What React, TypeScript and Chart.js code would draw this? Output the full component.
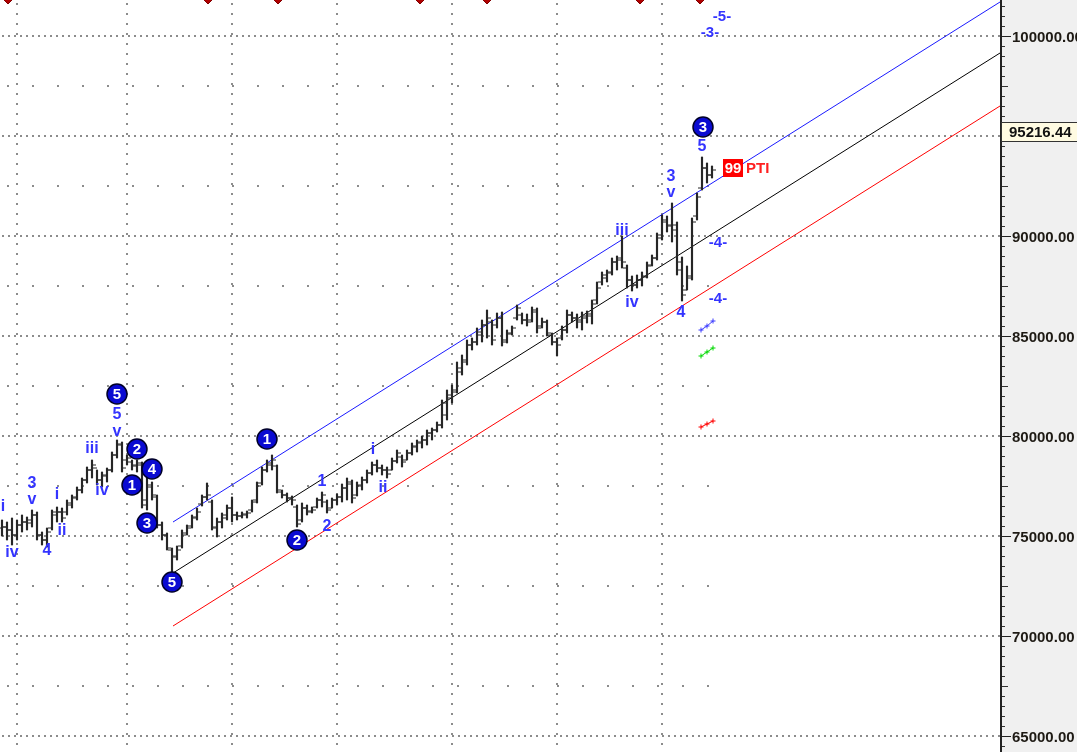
import React, { useEffect, useRef } from 'react';
import { Chart, registerables } from 'chart.js';

Chart.register(...registerables);

// ---------- data ----------
const highs = [75800,75700,75900,75800,76050,75950,76300,76200,75200,75400,
76300,76450,76400,76800,77050,77450,77900,78450,78800,78300,
78200,78400,79200,79800,79700,79050,78800,78800,78700,77900,
77700,77050,75700,75150,74400,74500,75300,75550,76050,76400,
77050,77650,76800,75900,76150,76550,76950,76200,76200,76250,
76800,77700,78450,78800,79050,78550,77300,77150,77000,76550,
76650,76550,76450,76900,77200,76800,76900,77100,77600,77900,
77800,77700,77950,78300,78700,78800,78550,78450,78900,79300,
79050,79300,79650,79800,80000,80300,80400,80700,81800,82300,
82550,83700,84050,84800,84900,85400,85800,86300,85800,86150,
86200,85300,85500,86550,86150,86100,86450,86400,85900,85800,
85150,84900,85500,86300,86200,86100,86200,86250,86800,87700,
88200,88300,88900,89000,90000,88550,88000,88050,88200,88700,
89050,90150,91050,91000,91650,90700,88950,88500,90900,92150,
93950,93650,93500];

const lows = [75000,74800,74550,74800,75200,75300,75450,74800,74550,74450,
75300,75700,75700,76050,76400,76800,77150,77650,77900,77550,
77450,77700,78200,78900,78200,78550,78300,78200,76400,76300,
76800,75400,74800,74300,73200,73800,74400,75050,75400,75800,
76500,76800,75300,74950,75400,75800,75700,75800,75900,75900,
76200,76650,77550,78200,78300,77150,76900,76700,76550,75450,
75700,76050,76150,76400,76450,76150,76400,76550,76700,76800,
76650,77000,77300,77650,78050,78200,78050,77900,78300,78650,
78450,78800,79050,79200,79400,79550,79800,80200,80400,80800,
81650,82150,83050,83550,84300,84550,84700,84900,84550,85400,
84500,84650,85050,85800,85600,85500,85700,85150,85400,85000,
84550,84000,84800,85150,85700,85400,85300,85650,85600,86600,
87550,87700,88050,88300,88400,87400,87250,87400,87500,87900,
88500,88800,89800,90200,89700,88050,86750,87300,87800,90800,
92300,92650,92900];

const opens = [75400,75450,75300,75050,75550,75700,75800,76050,75050,74800,
75400,76050,76200,76200,76550,76950,77300,77800,78300,78400,
77800,78000,78300,79050,79550,78800,78700,78500,78550,76800,
77450,76950,75550,75050,74300,74000,74500,75150,75500,75950,
76600,76950,76700,75400,75700,76050,76400,76050,76000,76050,
76300,76800,77650,78300,78550,78500,77200,77050,76900,76450,
75800,76400,76250,76450,76800,76700,76400,76800,76950,77400,
77600,77050,77500,77800,78150,78550,78400,78300,78300,78750,
78950,78800,79150,79450,79650,79800,80150,80300,80550,81050,
81900,82300,83200,83700,84550,84700,85050,85550,85700,85550,
85900,84800,85150,85900,86050,85800,85800,86300,85500,85700,
85050,84700,84900,85300,86050,85900,85800,85900,86000,86800,
87700,87900,88200,88700,88900,88400,87800,87550,87800,88000,
88550,88900,90050,90700,90550,90550,88700,87300,88000,91000,
92400,93400,93050];

const closes = [75450,75300,75050,75550,75700,75650,76050,75050,74800,75200,
76200,76200,75900,76650,76900,77300,77800,78300,78550,77800,
78050,78300,79050,79600,78400,78900,78550,78650,76550,77550,
77050,75550,75050,74400,73950,74300,75050,75400,75900,76200,
76950,77050,75450,75700,75900,76400,76050,76000,76100,76150,
76700,77500,78300,78650,78800,77300,77050,76900,76800,75600,
76400,76200,76300,76800,77050,76300,76800,76950,77400,77700,
76900,77550,77800,78150,78550,78400,78300,78100,78750,79150,
78700,79150,79500,79700,79800,80150,80300,80550,81650,82050,
82200,83400,83800,84550,84700,85200,85550,85900,84800,85900,
84700,85100,85400,86400,85800,85700,86200,85400,85700,85150,
84700,84550,85300,86050,85900,85700,86000,86100,86600,87400,
88050,88150,88700,88800,88700,87800,87550,87800,87950,88500,
88900,89900,90800,90500,90300,88300,87050,87900,90700,91950,
93400,93050,93300];

const yTickValues = [65000, 70000, 75000, 80000, 85000, 90000, 95000, 100000];
const yTickLabels = ['65000.00', '70000.00', '75000.00', '80000.00', '85000.00', '90000.00', '', '100000.00'];
const yMidValues = [67500, 72500, 77500, 82500, 87500, 92500, 97500];
const monthStarts = [3, 25, 46, 67, 90, 111, 132];
const weekStart = 1.2;

const channelX = [34.2, 199.6];
const upperChannel = [75700, 101700];
const middleChannel = [73150, 99150];
const lowerChannel = [70500, 96500];

const circleLabels: [string, number, number][] = [
  ['5', 23, 82100], ['2', 27, 79350], ['1', 26, 77550], ['4', 30, 78350],
  ['3', 29, 75650], ['5', 34, 72700], ['1', 53, 79850], ['2', 59, 74800],
  ['3', 140.2, 95450],
];

const waveLabels: [string, number, number][] = [
  ['i', 0.2, 76450], ['iv', 2, 74150], ['3', 6, 77600], ['v', 6, 76800],
  ['4', 9, 74250], ['i', 11, 77050], ['ii', 12, 75250], ['iii', 18, 79350],
  ['iv', 20, 77250], ['5', 23, 81050], ['v', 23, 80200], ['1', 64, 77700],
  ['2', 65, 75450], ['i', 74.2, 79300], ['ii', 76.2, 77400], ['iii', 124, 90250],
  ['iv', 126, 86650], ['3', 133.8, 92950], ['v', 133.8, 92150], ['4', 135.8, 86150],
  ['5', 140, 94450],
];

const targetLabels: [string, number, number][] = [
  ['-5-', 144, 100950], ['-3-', 141.6, 100150], ['-4-', 143.2, 89650], ['-4-', 143.2, 86850],
];

const crossX = [139.8, 141, 142.2];
const blueCross = [85300, 85500, 85750];
const greenCross = [84000, 84200, 84400];
const redCross = [80450, 80600, 80750];

const signalX = [1.2, 41.2, 55.2, 83.6, 97, 127.6, 139.6];

const lastPrice = 95216.44;
const lastPriceLabel = '95216.44';
const ptiScore = '99';
const ptiText = 'PTI';
const ptiPos = [146, 93400];

const X_MIN = -0.4;
const X_MAX = 199.6;
const Y_MIN = 64200;
const Y_MAX = 101800;

const FONT = '"Liberation Sans", Arial, sans-serif';

const decorPlugin = {
  id: 'decor',
  beforeDatasetsDraw(chart: any) {
    const { ctx, chartArea: a, scales } = chart;
    const x = scales.x, y = scales.y;
    ctx.save();
    ctx.fillStyle = '#f0f0f0';
    ctx.fillRect(a.right, 0, chart.width - a.right, chart.height);
    ctx.fillStyle = '#8c8c8c';
    yTickValues.forEach((v) => {
      const py = Math.round(y.getPixelForValue(v));
      for (let px = a.left + 2; px < a.right - 1; px += 6) ctx.fillRect(px, py - 1, 2, 2);
    });
    monthStarts.forEach((m) => {
      const px = Math.round(x.getPixelForValue(m));
      for (let py = a.top + 3; py < a.bottom; py += 10) ctx.fillRect(px - 1, py, 2, 2);
    });
    yMidValues.forEach((v) => {
      const py = Math.round(y.getPixelForValue(v));
      for (let w = weekStart; w <= highs.length - 1; w += 5) {
        const px = Math.round(x.getPixelForValue(w));
        ctx.fillRect(px - 1, py - 1, 2, 2);
      }
    });
    ctx.restore();
  },
  afterDatasetsDraw(chart: any) {
    const { ctx, scales } = chart;
    const x = scales.x, y = scales.y;
    ctx.save();
    ctx.textAlign = 'center';
    ctx.textBaseline = 'middle';
    ctx.font = `bold 16px ${FONT}`;
    ctx.fillStyle = '#3434ff';
    waveLabels.forEach(([t, xi, v]) => ctx.fillText(t, x.getPixelForValue(xi), y.getPixelForValue(v)));
    ctx.font = `bold 15px ${FONT}`;
    targetLabels.forEach(([t, xi, v]) => ctx.fillText(t, x.getPixelForValue(xi), y.getPixelForValue(v)));
    circleLabels.forEach(([t, xi, v]) => {
      const px = x.getPixelForValue(xi), py = y.getPixelForValue(v);
      ctx.beginPath();
      ctx.arc(px, py, 10, 0, Math.PI * 2);
      ctx.fillStyle = '#0a0ad2';
      ctx.fill();
      ctx.lineWidth = 1.5;
      ctx.strokeStyle = '#000028';
      ctx.stroke();
      ctx.fillStyle = '#ffffff';
      ctx.font = `bold 15px ${FONT}`;
      ctx.fillText(t, px, py + 1);
    });
    const ppx = x.getPixelForValue(ptiPos[0]), ppy = y.getPixelForValue(ptiPos[1]);
    ctx.fillStyle = '#ff0000';
    ctx.fillRect(ppx - 9, ppy - 9, 20, 18);
    ctx.fillStyle = '#ffffff';
    ctx.font = `bold 15px ${FONT}`;
    ctx.fillText(ptiScore, ppx + 1, ppy + 1);
    ctx.fillStyle = '#ff2020';
    ctx.textAlign = 'left';
    ctx.fillText(ptiText, ppx + 14, ppy + 1);
    ctx.restore();
  },
  afterDraw(chart: any) {
    const { ctx, chartArea: a, scales } = chart;
    const y = scales.y;
    ctx.save();
    const ax = a.right;
    ctx.strokeStyle = '#333';
    ctx.lineWidth = 1;
    for (let v = 64500; v <= Y_MAX; v += 500) {
      const py = Math.round(y.getPixelForValue(v)) + 0.5;
      const len = v % 2500 === 0 ? 7 : 4;
      ctx.beginPath();
      ctx.moveTo(ax + 1, py);
      ctx.lineTo(ax + 1 + len, py);
      ctx.stroke();
    }
    ctx.font = `bold 15px ${FONT}`;
    ctx.textAlign = 'left';
    ctx.textBaseline = 'middle';
    yTickValues.forEach((v, i) => {
      const py = Math.round(y.getPixelForValue(v)) + 0.5;
      ctx.strokeStyle = '#222';
      ctx.beginPath();
      ctx.moveTo(ax + 1, py);
      ctx.lineTo(ax + 11, py);
      ctx.stroke();
      ctx.fillStyle = '#1e1a14';
      if (yTickLabels[i]) ctx.fillText(yTickLabels[i], ax + 12, py + 1);
    });
    ctx.strokeStyle = '#222';
    ctx.lineWidth = 2;
    ctx.beginPath();
    ctx.moveTo(ax + 1, 0);
    ctx.lineTo(ax + 1, chart.height);
    ctx.stroke();
    const lp = y.getPixelForValue(lastPrice);
    ctx.fillStyle = '#fffbe2';
    ctx.fillRect(ax + 2, lp - 9.5, chart.width - ax - 2, 19);
    ctx.strokeStyle = '#333';
    ctx.lineWidth = 1;
    ctx.strokeRect(ax + 1.5, Math.round(lp - 9.5) + 0.5, chart.width - ax, 19);
    ctx.fillStyle = '#111';
    ctx.fillText(lastPriceLabel, ax + 9, lp + 1);
    ctx.restore();
  },
};

export default function App() {
  const ref = useRef<HTMLCanvasElement>(null);
  useEffect(() => {
    document.body.style.margin = '0';
    document.body.style.overflow = 'hidden';
    const idx = highs.map((_, i) => i);
    const chart = new Chart(ref.current as HTMLCanvasElement, {
      type: 'bar',
      data: {
        datasets: [
          {
            type: 'bar',
            data: idx.map((i) => ({ x: i, y: [lows[i], highs[i]] })) as any,
            backgroundColor: '#262626',
            borderWidth: 0,
            barThickness: 1.5,
          } as any,
          {
            type: 'line',
            data: idx.map((i) => ({ x: i - 0.4, y: opens[i] })),
            showLine: false,
            pointStyle: 'line',
            pointRadius: 2,
            pointBorderWidth: 1,
            pointBorderColor: '#262626',
          } as any,
          {
            type: 'line',
            data: idx.map((i) => ({ x: i + 0.4, y: closes[i] })),
            showLine: false,
            pointStyle: 'line',
            pointRadius: 2,
            pointBorderWidth: 1,
            pointBorderColor: '#262626',
          } as any,
          {
            type: 'line',
            data: channelX.map((cx, k) => ({ x: cx, y: upperChannel[k] })),
            borderColor: '#1a1aff', borderWidth: 1, pointRadius: 0,
          } as any,
          {
            type: 'line',
            data: channelX.map((cx, k) => ({ x: cx, y: middleChannel[k] })),
            borderColor: '#000000', borderWidth: 1, pointRadius: 0,
          } as any,
          {
            type: 'line',
            data: channelX.map((cx, k) => ({ x: cx, y: lowerChannel[k] })),
            borderColor: '#ff0000', borderWidth: 1, pointRadius: 0,
          } as any,
          {
            type: 'line',
            data: crossX.map((cx, k) => ({ x: cx, y: blueCross[k] })),
            borderColor: '#3a3aff', borderWidth: 1, pointStyle: 'cross', pointRadius: 2.5,
            pointBorderColor: '#3a3aff', pointBorderWidth: 1,
          } as any,
          {
            type: 'line',
            data: crossX.map((cx, k) => ({ x: cx, y: greenCross[k] })),
            borderColor: '#00d800', borderWidth: 1, pointStyle: 'cross', pointRadius: 2.5,
            pointBorderColor: '#00d800', pointBorderWidth: 1,
          } as any,
          {
            type: 'line',
            data: crossX.map((cx, k) => ({ x: cx, y: redCross[k] })),
            borderColor: '#ff0000', borderWidth: 1, pointStyle: 'cross', pointRadius: 2.5,
            pointBorderColor: '#ff0000', pointBorderWidth: 1,
          } as any,
          {
            type: 'line',
            data: signalX.map((sx) => ({ x: sx, y: Y_MAX })),
            showLine: false,
            pointStyle: 'rectRot',
            pointRadius: 4,
            pointBackgroundColor: '#b00000',
            pointBorderColor: '#800000',
            pointBorderWidth: 1,
          } as any,
        ],
      },
      options: {
        responsive: false,
        animation: false,
        devicePixelRatio: 1,
        events: [],
        layout: { autoPadding: false, padding: { left: 0, right: 77, top: 0, bottom: 0 } },
        plugins: { legend: { display: false }, tooltip: { enabled: false } },
        scales: {
          x: { type: 'linear', min: X_MIN, max: X_MAX, display: false, offset: false },
          y: { type: 'linear', min: Y_MIN, max: Y_MAX, display: false },
        },
      } as any,
      plugins: [decorPlugin],
    });
    return () => chart.destroy();
  }, []);
  return (
    <div style={{ width: 1077, height: 752, background: '#fff' }}>
      <canvas ref={ref} width={1077} height={752} style={{ display: 'block' }} />
    </div>
  );
}
